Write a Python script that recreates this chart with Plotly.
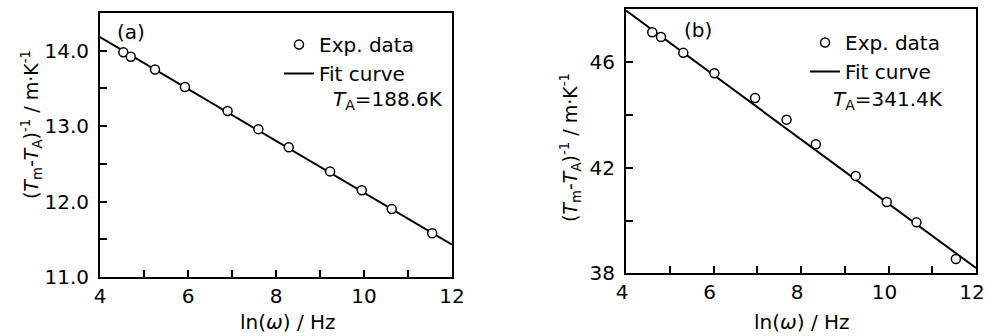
import plotly.graph_objects as go

# ---- data ----
ln_w_a = [4.53, 4.70, 5.25, 5.93, 6.90, 7.60, 8.29, 9.23, 9.95, 10.63, 11.55]
inv_a = [13.98, 13.92, 13.75, 13.52, 13.20, 12.96, 12.72, 12.40, 12.15, 11.90, 11.58]
ln_w_b = [4.60, 4.80, 5.31, 6.02, 6.95, 7.67, 8.34, 9.25, 9.96, 10.64, 11.54]
inv_b = [47.13, 46.95, 46.35, 45.58, 44.64, 43.82, 42.89, 41.69, 40.70, 39.93, 38.54]
fit_x = [4, 12]
fit_a = [14.18, 11.43]
fit_b = [47.95, 38.20]

x_tickvals = [4, 6, 8, 10, 12]
x_ticktext = ["4", "6", "8", "10", "12"]
x_minorvals = [5, 7, 9, 11]
ya_tickvals = [11.0, 12.0, 13.0, 14.0]
ya_ticktext = ["11.0", "12.0", "13.0", "14.0"]
ya_minorvals = [11.5, 12.5, 13.5, 14.5]
yb_tickvals = [38, 42, 46]
yb_ticktext = ["38", "42", "46"]
yb_minorvals = [40, 44, 48]

FONT = "DejaVu Sans"
W, H = 986, 336

fig = go.Figure()

fig.add_trace(go.Scatter(x=fit_x, y=fit_a, mode="lines", name="Fit curve",
                         line=dict(color="black", width=2), xaxis="x", yaxis="y",
                         legend="legend", legendrank=2))
fig.add_trace(go.Scatter(x=ln_w_a, y=inv_a, mode="markers", name="Exp. data",
                         marker=dict(symbol="circle", size=9, color="white",
                                     line=dict(color="black", width=1.5)),
                         xaxis="x", yaxis="y", legend="legend", legendrank=1))
fig.add_trace(go.Scatter(x=fit_x, y=fit_b, mode="lines", name="Fit curve",
                         line=dict(color="black", width=2), xaxis="x2", yaxis="y2",
                         legend="legend2", legendrank=2))
fig.add_trace(go.Scatter(x=ln_w_b, y=inv_b, mode="markers", name="Exp. data",
                         marker=dict(symbol="circle", size=9, color="white",
                                     line=dict(color="black", width=1.5)),
                         xaxis="x2", yaxis="y2", legend="legend2", legendrank=1))

axis_common = dict(showgrid=False, zeroline=False, showline=True, linecolor="black",
                   linewidth=2, mirror=True, ticks="inside", ticklen=7, tickwidth=2,
                   tickcolor="black", automargin=False, tickmode="array",
                   tickfont=dict(family=FONT, size=20, color="black"))


def minor(vals):
    return dict(tickmode="array", tickvals=vals, ticks="inside", ticklen=7,
                tickwidth=2, tickcolor="black", showgrid=False)


fig.update_layout(
    template="none",
    width=W, height=H,
    margin=dict(l=0, r=0, t=0, b=0, pad=0, autoexpand=False),
    paper_bgcolor="white", plot_bgcolor="white",
    font=dict(family=FONT, size=20, color="black"),
    xaxis=dict(domain=[100 / W, 452 / W], range=[4, 12],
               tickvals=x_tickvals, ticktext=x_ticktext, minor=minor(x_minorvals),
               anchor="y", **axis_common),
    yaxis=dict(domain=[59 / H, 323 / H], range=[11.0, 14.5],
               tickvals=ya_tickvals, ticktext=ya_ticktext, minor=minor(ya_minorvals),
               anchor="x", ticklabelstandoff=5, **axis_common),
    xaxis2=dict(domain=[626 / W, 976 / W], range=[4, 12],
                tickvals=x_tickvals, ticktext=x_ticktext, minor=minor(x_minorvals),
                anchor="y2", ticklabelshift=-4, ticklabeloverflow="allow", **axis_common),
    yaxis2=dict(domain=[62.7 / H, 326.7 / H], range=[38, 48],
                tickvals=yb_tickvals, ticktext=yb_ticktext, minor=minor(yb_minorvals),
                anchor="x2", ticklabelstandoff=5, **axis_common),
    legend=dict(x=279 / W, y=1 - 25 / H, xanchor="left", yanchor="top",
                bgcolor="rgba(0,0,0,0)", borderwidth=0, tracegroupgap=0,
                font=dict(family=FONT, size=20, color="black"), itemwidth=30),
    legend2=dict(x=805 / W, y=1 - 23 / H, xanchor="left", yanchor="top",
                 bgcolor="rgba(0,0,0,0)", borderwidth=0, tracegroupgap=0,
                 font=dict(family=FONT, size=20, color="black"), itemwidth=30),
    showlegend=True,
)

ann_font = dict(family=FONT, size=20, color="black")
title_font = dict(family=FONT, size=19, color="black")
annotations = [
    dict(text="(a)", x=131 / W, y=1 - 32 / H, font=ann_font),
    dict(text="(b)", x=698 / W, y=1 - 30 / H, font=ann_font),
    dict(text="<i>T</i><sub>A</sub>=188.6K", x=388 / W, y=1 - 100 / H, font=ann_font),
    dict(text="<i>T</i><sub>A</sub>=341.4K", x=888 / W, y=1 - 100 / H, font=ann_font),
    dict(text="ln(<i>ω</i>) / Hz", x=288 / W, y=1 - 322 / H, font=ann_font),
    dict(text="ln(<i>ω</i>) / Hz", x=802 / W, y=1 - 322 / H, font=ann_font),
    dict(text="(<i>T</i><sub>m</sub>-<i>T</i><sub>A</sub>)<sup>-1</sup> / m·K<sup>-1</sup>",
         x=31 / W, y=1 - 125 / H, textangle=-90, font=title_font),
    dict(text="(<i>T</i><sub>m</sub>-<i>T</i><sub>A</sub>)<sup>-1</sup> / m·K<sup>-1</sup>",
         x=570 / W, y=1 - 148 / H, textangle=-90, font=title_font),
]
for a in annotations:
    fig.add_annotation(xref="paper", yref="paper", showarrow=False,
                       xanchor="center", yanchor="middle", **a)

fig.write_html("out.html",
               config={"displayModeBar": False},
               post_script="document.body.style.margin='0px';"
                           "document.documentElement.style.overflow='hidden';")
